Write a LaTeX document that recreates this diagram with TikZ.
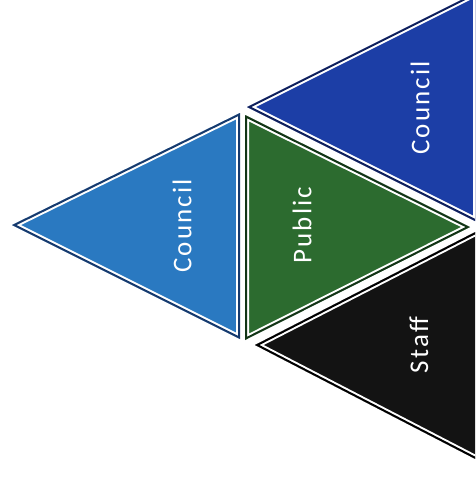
\documentclass[tikz,border=0pt]{standalone}
\usepackage{fontspec}
\setmainfont{Carlito}
\definecolor{cSky}   {HTML}{2A79C1}
\definecolor{cSkyE}  {HTML}{163A6E}
\definecolor{cPub}   {HTML}{2C6B2F}
\definecolor{cPubE}  {HTML}{123516}
\definecolor{cNavy}  {HTML}{1C3EA6}
\definecolor{cNavyE} {HTML}{0E1F5C}
\definecolor{cStaff} {HTML}{131313}
\definecolor{cStaffE}{HTML}{000000}
\tikzset{
  rimlight/.style={draw=white,line width=8pt,line join=miter},
  rimdark/.style ={line width=4pt,line join=miter},
  lbl/.style     ={text=white,rotate=90,inner sep=0pt,
                   font=\fontsize{27}{32}\selectfont\addfontfeatures{LetterSpace=8}},
}

\begin{document}
\begin{tikzpicture}[x=1pt,y=-1pt]
\clip (0,0) rectangle (475,477);

% ---- corners of the four facets --------------------------------------------
\coordinate (skyA) at (12,225);  \coordinate (skyB) at (240,113); \coordinate (skyC) at (240,339);
\coordinate (pubA) at (470,227); \coordinate (pubB) at (245,115); \coordinate (pubC) at (245,340);
\coordinate (navA) at (247,107); \coordinate (navB) at (477,-8);  \coordinate (navC) at (477,222);
\coordinate (stfA) at (255,345); \coordinate (stfB) at (485,227); \coordinate (stfC) at (485,464);

% ---- facets: fill, white inner rim, dark outer rim ----------------------------
\foreach \tn/\fc/\ec in {sky/cSky/cSkyE,pub/cPub/cPubE,nav/cNavy/cNavyE,stf/cStaff/cStaffE}{
  \begin{scope}
    \clip (\tn A) -- (\tn B) -- (\tn C) -- cycle;
    \fill[\fc] (\tn A) -- (\tn B) -- (\tn C) -- cycle;
    \draw[rimlight] (\tn A) -- (\tn B) -- (\tn C) -- cycle;
    \draw[rimdark,draw=\ec] (\tn A) -- (\tn B) -- (\tn C) -- cycle;
  \end{scope}}

% ---- labels -------------------------------------------------------------------
\node[lbl] (skyT) at (182,226) {Council};
\node[lbl] (pubT) at (302,225) {Public};
\node[lbl] (navT) at (420,108) {Council};
\node[lbl] (stfT) at (419,345) {Staff};
\end{tikzpicture}
\end{document}
